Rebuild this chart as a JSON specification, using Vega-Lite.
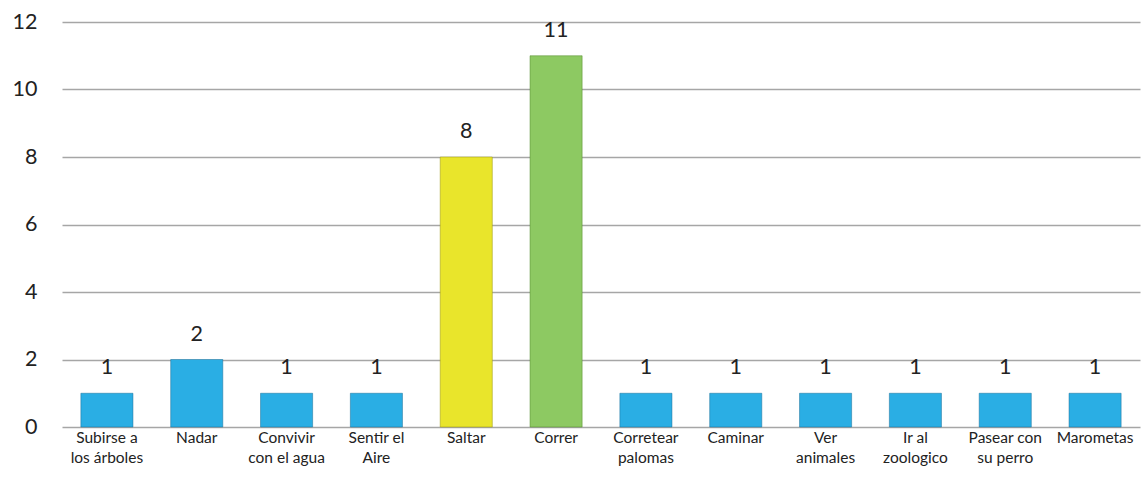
{
  "$schema": "https://vega.github.io/schema/vega-lite/v6.json",
  "width": 1078,
  "height": 405,
  "autosize": {"type": "none"},
  "padding": {"left": 62, "top": 22, "right": 2, "bottom": 56},
  "background": "white",
  "config": {"view": {"stroke": null}, "font": "Lato"},
  "data": {"values": [
    {"actividad": "Subirse a|los árboles", "n": 1},
    {"actividad": "Nadar", "n": 2},
    {"actividad": "Convivir|con el agua", "n": 1},
    {"actividad": "Sentir el|Aire", "n": 1},
    {"actividad": "Saltar", "n": 8},
    {"actividad": "Correr", "n": 11},
    {"actividad": "Corretear|palomas", "n": 1},
    {"actividad": "Caminar", "n": 1},
    {"actividad": "Ver|animales", "n": 1},
    {"actividad": "Ir al|zoologico", "n": 1},
    {"actividad": "Pasear con|su perro", "n": 1},
    {"actividad": "Marometas", "n": 1}
  ]},
  "encoding": {
    "x": {"field": "actividad", "type": "nominal", "sort": null,
      "scale": {"paddingInner": 0.42, "paddingOuter": 0.21},
      "axis": {"title": null, "labelAngle": 0, "domain": false, "ticks": false,
        "labelExpr": "split(datum.label, '|')", "labelFontSize": 15.5, "labelColor": "#222",
        "labelLineHeight": 20, "labelPadding": 3, "labelBaseline": "top", "labelLimit": 200}},
    "y": {"field": "n", "type": "quantitative",
      "scale": {"domain": [0, 12], "nice": false},
      "axis": {"title": null, "values": [0, 2, 4, 6, 8, 10, 12], "domain": false, "ticks": false,
        "labelFontSize": 21.5, "labelColor": "#222", "labelPadding": 25,
        "gridColor": "#A6A6A6", "gridWidth": 1.5}}
  },
  "layer": [
    {
      "mark": {"type": "bar", "strokeWidth": 1, "strokeOpacity": 0.5},
      "encoding": {
        "color": {
          "condition": [
            {"test": "datum.actividad == 'Saltar'", "value": "#E9E52B"},
            {"test": "datum.actividad == 'Correr'", "value": "#8DC962"}
          ],
          "value": "#2AAEE4"
        },
        "stroke": {
          "condition": [
            {"test": "datum.actividad == 'Saltar'", "value": "#9a9610"},
            {"test": "datum.actividad == 'Correr'", "value": "#4f8a2a"}
          ],
          "value": "#1a6f9a"
        }
      }
    },
    {
      "mark": {"type": "text", "dy": -25, "fontSize": 21.5, "color": "#222", "baseline": "middle"},
      "encoding": {"text": {"field": "n", "type": "quantitative"}}
    }
  ]
}
